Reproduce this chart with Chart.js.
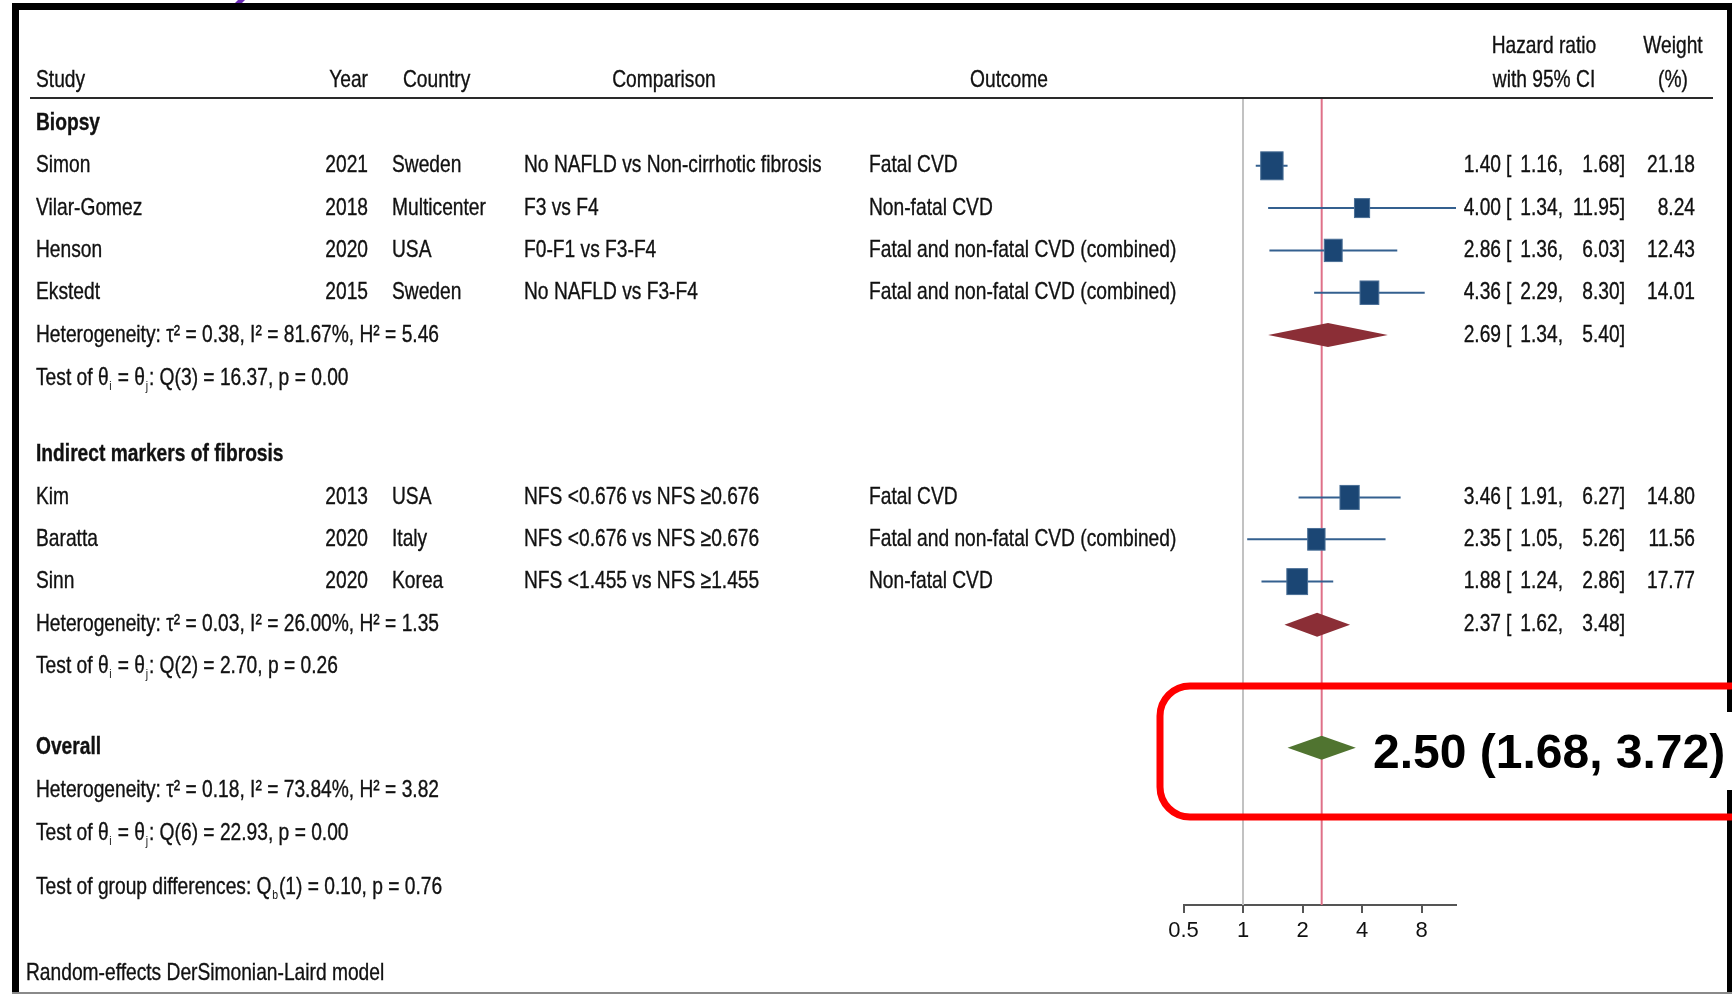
<!DOCTYPE html>
<html>
<head>
<meta charset="utf-8">
<script src="https://cdn.jsdelivr.net/npm/chart.js@4.4.0/dist/chart.umd.min.js"></script>
<style>
  html, body { margin: 0; padding: 0; background: #fff; overflow: hidden; }
  #wrap { width: 1732px; height: 995px; position: relative; }
</style>
</head>
<body>
<div id="wrap"><canvas id="forest"></canvas></div>
<script>
// ---- data ----
var studies     = ["Simon", "Vilar-Gomez", "Henson", "Ekstedt", "Kim", "Baratta", "Sinn"];
var years       = ["2021", "2018", "2020", "2015", "2013", "2020", "2020"];
var countries   = ["Sweden", "Multicenter", "USA", "Sweden", "USA", "Italy", "Korea"];
var comparisons = ["No NAFLD vs Non-cirrhotic fibrosis", "F3 vs F4", "F0-F1 vs F3-F4", "No NAFLD vs F3-F4",
                   "NFS <0.676 vs NFS \u22650.676", "NFS <0.676 vs NFS \u22650.676", "NFS <1.455 vs NFS \u22651.455"];
var outcomes    = ["Fatal CVD", "Non-fatal CVD", "Fatal and non-fatal CVD (combined)", "Fatal and non-fatal CVD (combined)",
                   "Fatal CVD", "Fatal and non-fatal CVD (combined)", "Non-fatal CVD"];
var hr      = [1.40, 4.00, 2.86, 4.36, 3.46, 2.35, 1.88];
var lower   = [1.16, 1.34, 1.36, 2.29, 1.91, 1.05, 1.24];
var upper   = [1.68, 11.95, 6.03, 8.30, 6.27, 5.26, 2.86];
var weights = [21.18, 8.24, 12.43, 14.01, 14.80, 11.56, 17.77];
var studyRows = [1, 2, 3, 4, 8.84, 9.83, 10.83];

var groupNames  = ["Biopsy", "Indirect markers of fibrosis"];
var groupRows   = [0, 7.82];
var pooledHR    = [2.69, 2.37];
var pooledLower = [1.34, 1.62];
var pooledUpper = [5.40, 3.48];
var pooledRows  = [5, 11.85];

// heterogeneity: biopsy, indirect, overall
var tau2 = ["0.38", "0.03", "0.18"];
var i2   = ["81.67", "26.00", "73.84"];
var h2   = ["5.46", "1.35", "3.82"];
var hetRows = [5, 11.85, 15.76];
var qDf  = ["3", "2", "6"];
var qVal = ["16.37", "2.70", "22.93"];
var qP   = ["0.00", "0.26", "0.00"];
var testRows = [6.02, 12.84, 16.78];

var overallHR = 2.50, overallLower = 1.68, overallUpper = 3.72, overallRow = 14.76;
var groupDiff = { q: "0.10", p: "0.76", row: 18.06 };

var xTicks = [0.5, 1, 2, 4, 8];

// ---- look ----
var FONT = '"Liberation Sans", Arial, Helvetica, sans-serif';
var FS = 24, SQ = 0.80, INK = '#111';

function setFont(ctx, size, bold) { ctx.font = (bold ? 'bold ' : '') + size + 'px ' + FONT; }

// fill + hairline stroke, the Stata text reads a bit heavier than plain fill
function ink(ctx, s, x, y) {
  ctx.fillText(s, x, y);
  ctx.strokeText(s, x, y);
}

function drawText(ctx, s, x, y, align, bold) {
  ctx.save();
  setFont(ctx, FS, bold);
  ctx.fillStyle = INK;
  ctx.strokeStyle = INK;
  ctx.lineWidth = 0.35;
  ctx.textAlign = align || 'left';
  ctx.textBaseline = 'middle';
  ctx.translate(x, y);
  ctx.scale(SQ, 1);
  ink(ctx, s, 0, 0);
  ctx.restore();
}

// parts: plain strings or {sub: 'x'}
function drawRich(ctx, parts, x, y) {
  ctx.save();
  ctx.fillStyle = INK;
  ctx.strokeStyle = INK;
  ctx.lineWidth = 0.35;
  ctx.textAlign = 'left';
  ctx.textBaseline = 'middle';
  ctx.translate(x, y);
  ctx.scale(SQ, 1);
  var cx = 0;
  parts.forEach(function (p) {
    if (typeof p === 'string') {
      setFont(ctx, FS);
      ink(ctx, p, cx, 0);
      cx += ctx.measureText(p).width;
    } else {
      setFont(ctx, 13);
      ctx.fillText(p.sub, cx + 1, 8);
      cx += ctx.measureText(p.sub).width + 2;
    }
  });
  ctx.restore();
}

function drawCIText(ctx, est, lo, hi, w, y) {
  drawText(ctx, est.toFixed(2), 1501, y, 'right');
  drawText(ctx, '[', 1506, y, 'left');
  drawText(ctx, lo.toFixed(2) + ',', 1563, y, 'right');
  drawText(ctx, hi.toFixed(2) + ']', 1625, y, 'right');
  if (w != null) drawText(ctx, w.toFixed(2), 1695, y, 'right');
}

var forestPlugin = {
  id: 'forest',
  beforeDatasetsDraw: function (chart) {
    var ctx = chart.ctx, a = chart.chartArea, xs = chart.scales.x;
    ctx.save();
    ctx.lineWidth = 2;
    ctx.strokeStyle = '#c2c2c2';
    var x1 = xs.getPixelForValue(1);
    ctx.beginPath(); ctx.moveTo(x1, a.top); ctx.lineTo(x1, a.bottom); ctx.stroke();
    ctx.strokeStyle = '#df7088';
    var xo = xs.getPixelForValue(overallHR);
    ctx.beginPath(); ctx.moveTo(xo, a.top); ctx.lineTo(xo, a.bottom); ctx.stroke();
    ctx.restore();
  },
  afterDatasetsDraw: function (chart) {
    var ctx = chart.ctx, xs = chart.scales.x;
    var pts = chart.getDatasetMeta(0).data;
    ctx.save();
    // confidence intervals
    ctx.strokeStyle = '#34608f';
    ctx.lineWidth = 2;
    pts.forEach(function (p, i) {
      ctx.beginPath();
      ctx.moveTo(xs.getPixelForValue(lower[i]), p.y);
      ctx.lineTo(xs.getPixelForValue(upper[i]), p.y);
      ctx.stroke();
    });
    // weighted boxes
    pts.forEach(function (p, i) {
      var h = 5.2 * Math.sqrt(weights[i]) + 4;
      var w = h * 0.8;
      ctx.fillStyle = '#1b4674';
      ctx.fillRect(p.x - w / 2, p.y - h / 2, w, h);
      ctx.strokeStyle = '#4a6f96';
      ctx.lineWidth = 1;
      ctx.strokeRect(p.x - w / 2, p.y - h / 2, w, h);
    });
    // diamonds
    function diamond(meta, lo, hi, color) {
      meta.data.forEach(function (p, i) {
        var l = xs.getPixelForValue(lo[i]), r = xs.getPixelForValue(hi[i]);
        ctx.fillStyle = color;
        ctx.beginPath();
        ctx.moveTo(l, p.y);
        ctx.lineTo(p.x, p.y - 12);
        ctx.lineTo(r, p.y);
        ctx.lineTo(p.x, p.y + 12);
        ctx.closePath();
        ctx.fill();
      });
    }
    diamond(chart.getDatasetMeta(1), pooledLower, pooledUpper, '#8b2e36');
    diamond(chart.getDatasetMeta(2), [overallLower], [overallUpper], '#507430');
    ctx.restore();
  },
  afterDraw: function (chart) {
    var ctx = chart.ctx, ys = chart.scales.y;
    var Y = function (r) { return ys.getPixelForValue(r); };

    // headers
    drawText(ctx, 'Study', 36, 80, 'left');
    drawText(ctx, 'Year', 368, 80, 'right');
    drawText(ctx, 'Country', 403, 80, 'left');
    drawText(ctx, 'Comparison', 664, 80, 'center');
    drawText(ctx, 'Outcome', 1009, 80, 'center');
    drawText(ctx, 'Hazard ratio', 1544, 46, 'center');
    drawText(ctx, 'with 95% CI', 1544, 80, 'center');
    drawText(ctx, 'Weight', 1673, 46, 'center');
    drawText(ctx, '(%)', 1673, 80, 'center');
    ctx.fillStyle = '#2a2a2a';
    ctx.fillRect(30, 97, 1683, 2);

    // groups
    groupNames.forEach(function (g, i) { drawText(ctx, g, 36, Y(groupRows[i]), 'left', true); });
    drawText(ctx, 'Overall', 36, Y(overallRow), 'left', true);

    // studies
    studies.forEach(function (s, i) {
      var y = Y(studyRows[i]);
      drawText(ctx, s, 36, y, 'left');
      drawText(ctx, years[i], 368, y, 'right');
      drawText(ctx, countries[i], 392, y, 'left');
      drawText(ctx, comparisons[i], 524, y, 'left');
      drawText(ctx, outcomes[i], 869, y, 'left');
      drawCIText(ctx, hr[i], lower[i], upper[i], weights[i], y);
    });
    pooledHR.forEach(function (v, i) {
      drawCIText(ctx, v, pooledLower[i], pooledUpper[i], null, Y(pooledRows[i]));
    });

    // heterogeneity + tests
    tau2.forEach(function (t, i) {
      drawText(ctx, 'Heterogeneity: \u03c4\u00b2 = ' + t + ', I\u00b2 = ' + i2[i] + '%, H\u00b2 = ' + h2[i], 36, Y(hetRows[i]), 'left');
      drawRich(ctx, ['Test of \u03b8', { sub: 'i' }, ' = \u03b8', { sub: 'j' },
        ': Q(' + qDf[i] + ') = ' + qVal[i] + ', p = ' + qP[i]], 36, Y(testRows[i]));
    });
    drawRich(ctx, ['Test of group differences: Q', { sub: 'b' },
      '(1) = ' + groupDiff.q + ', p = ' + groupDiff.p], 36, Y(groupDiff.row));

    drawText(ctx, 'Random-effects DerSimonian-Laird model', 26, 973, 'left');

    // frame of the screenshot
    ctx.save();
    ctx.fillStyle = '#000';
    ctx.fillRect(12, 3, 1720, 7);
    ctx.fillRect(12, 3, 7, 990);
    ctx.fillRect(1727, 3, 5, 990);
    ctx.fillStyle = '#8a8a8a';
    ctx.fillRect(12, 992, 1720, 2);
    ctx.fillStyle = '#6b2bb5';
    ctx.beginPath();
    ctx.moveTo(238, 0); ctx.lineTo(245, 0); ctx.lineTo(242, 3); ctx.lineTo(235, 3); ctx.closePath(); ctx.fill();
    ctx.fillStyle = '#fff';
    ctx.fillRect(1720, 712, 12, 78);

    // highlight box
    ctx.strokeStyle = '#ff0000';
    ctx.lineWidth = 7;
    var L = 1160, T = 686, B = 817, R = 30;
    ctx.beginPath();
    ctx.moveTo(1780, T);
    ctx.lineTo(L + R, T);
    ctx.arcTo(L, T, L, T + R, R);
    ctx.lineTo(L, B - R);
    ctx.arcTo(L, B, L + R, B, R);
    ctx.lineTo(1780, B);
    ctx.stroke();

    ctx.fillStyle = '#000';
    setFont(ctx, 48, true);
    ctx.textAlign = 'left';
    ctx.textBaseline = 'middle';
    ctx.fillText(overallHR.toFixed(2) + ' (' + overallLower.toFixed(2) + ', ' + overallUpper.toFixed(2) + ')', 1373, 755);
    ctx.restore();
  }
};

new Chart(document.getElementById('forest'), {
  type: 'scatter',
  data: {
    datasets: [
      { label: 'Studies', data: hr.map(function (v, i) { return { x: v, y: studyRows[i] }; }), pointRadius: 0 },
      { label: 'Subgroups', data: pooledHR.map(function (v, i) { return { x: v, y: pooledRows[i] }; }), pointRadius: 0 },
      { label: 'Overall', data: [{ x: overallHR, y: overallRow }], pointRadius: 0 }
    ]
  },
  options: {
    responsive: true,
    maintainAspectRatio: false,
    animation: false,
    events: [],
    devicePixelRatio: 1,
    layout: { padding: { left: 1183.5, right: 276, top: 98, bottom: 0 } },
    plugins: { legend: { display: false }, tooltip: { enabled: false } },
    scales: {
      x: {
        type: 'logarithmic',
        min: 0.5,
        max: 11.95,
        bounds: 'data',
        afterBuildTicks: function (s) { s.ticks = xTicks.map(function (v) { return { value: v }; }); },
        afterFit: function (s) { s.height = 90; },
        grid: { drawOnChartArea: false, color: '#555', lineWidth: 2, tickLength: 8 },
        border: { color: '#555', width: 2 },
        ticks: {
          color: '#111',
          padding: 5,
          maxRotation: 0,
          font: { family: FONT, size: 22 },
          callback: function (v) { return String(v); }
        }
      },
      y: {
        type: 'linear',
        reverse: true,
        min: -0.603,
        max: 18.475,
        display: false
      }
    }
  },
  plugins: [forestPlugin]
});
</script>
</body>
</html>
